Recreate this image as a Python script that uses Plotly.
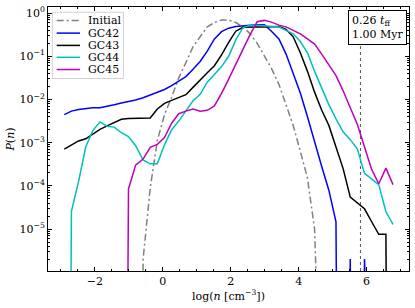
import plotly.graph_objects as go

# bin centres, log(n [cm^-3])
log_n = [-2.90, -2.69, -2.48, -2.27, -2.06, -1.85, -1.64, -1.43, -1.22, -1.01,
         -0.80, -0.58, -0.37, -0.16, 0.05, 0.26, 0.47, 0.68, 0.89, 1.10,
         1.31, 1.52, 1.73, 1.94, 2.15, 2.36, 2.57, 2.78, 2.99, 3.20,
         3.42, 3.63, 3.84, 4.05, 4.26, 4.47, 4.68, 4.89, 5.10, 5.31,
         5.52, 5.73, 5.94, 6.15, 6.36, 6.57, 6.78]

# log10 P(n); None = empty bin
initial = [None]*11 + [-5.70, -4.05, -2.95, -2.35, -1.95, -1.50, -1.15, -0.78, -0.55,
           -0.32, -0.22, -0.16, -0.16, -0.22, -0.32, -0.48, -0.70, -1.00, -1.28,
           -1.65, -2.10, -2.60, -3.20, -3.82, -5.00] + [None]*11
gc42 = [-2.35, -2.27, -2.23, -2.21, -2.19, -2.19, -2.16, -2.12, -2.08, -2.05,
        -2.01, -1.96, -1.90, -1.84, -1.77, -1.68, -1.57, -1.47, -1.30, -1.12,
        -0.88, -0.60, -0.43, -0.35, -0.31, -0.29, -0.28, -0.27, -0.27, -0.42,
        -0.60, -0.95, -1.38, -1.85, -2.40, -3.00, -3.55, -4.10, -4.83, None,
        -5.69, None, -5.69, None, None, None, None]
gc43 = [-3.15, -3.05, -2.96, -2.91, -2.80, -2.69, -2.61, -2.54, -2.46, -2.44,
        -2.44, -2.44, -2.43, -2.22, -2.09, -2.02, -1.95, -1.89, -1.72, -1.54,
        -1.38, -1.22, -0.97, -0.68, -0.42, -0.33, -0.32, -0.32, -0.32, -0.32,
        -0.31, -0.38, -0.55, -0.92, -1.35, -1.83, -2.25, -2.60, -3.08, -3.60,
        -4.26, -4.40, -4.53, -4.83, -5.12, -5.12, None]
gc44 = [None, -4.59, -3.90, -3.10, -2.72, -2.52, -2.62, -2.64, -2.77, -2.86,
        -3.07, -3.40, -3.49, -3.49, -3.05, -2.70, -2.50, -2.25, -2.03, -1.88,
        -1.60, -1.42, -1.24, -1.00, -0.62, -0.34, -0.28, -0.28, -0.29, -0.30,
        -0.32, -0.40, -0.48, -0.66, -0.92, -1.35, -1.75, -2.12, -2.45, -2.75,
        -2.93, -3.15, -3.71, -3.85, -3.97, -4.60, -4.89]
gc45 = [None]*9 + [-4.07, -3.52, -3.38, -3.11, -3.04, -2.88, -2.55, -2.33, -2.27, -2.22,
        -2.27, -2.25, -2.15, -1.86, -1.53, -1.18, -0.84, -0.50, -0.20, -0.17,
        -0.21, -0.28, -0.32, -0.40, -0.48, -0.60, -0.72, -0.95, -1.20, -1.45,
        -1.80, -2.17, -2.58, -3.10, -3.62, -3.95, -3.59, -3.97]

series_names = ["Initial", "GC42", "GC43", "GC44", "GC45"]
series_vals = [initial, gc42, gc43, gc44, gc45]
series_colors = ["#808080", "#0000ff", "#000000", "#00bfbf", "#bf00bf"]
series_dash = ["7px,3px,2px,3px", "solid", "solid", "solid", "solid"]

t_label = "0.26 <i>t</i><sub>ff</sub><br>1.00 Myr"
density_threshold = 5.82

FLOOR = 1e-30  # empty bins drop off the bottom of the log axis
FONT = "DejaVu Serif"
FS = 11

fig = go.Figure()
for name, vals, col, dash in zip(series_names, series_vals, series_colors, series_dash):
    y = [FLOOR if v is None else 10 ** v for v in vals]
    fig.add_trace(go.Scatter(x=log_n, y=y, mode="lines", name=name, showlegend=False,
                             line=dict(color=col, width=1.5, dash=dash)))

# vertical threshold line
fig.add_shape(type="line", xref="x", yref="paper", x0=density_threshold, x1=density_threshold,
              y0=0, y1=1, line=dict(color="#555555", width=1, dash="dot"), layer="below")

# legend (drawn manually to reproduce the compact matplotlib spacing)
fig.add_shape(type="rect", xref="paper", yref="paper", x0=0.012, x1=0.209, y0=0.729, y1=0.980,
              line=dict(color="#d0d0d0", width=1), fillcolor="rgba(255,255,255,0.85)")
row_y = [0.9485, 0.9011, 0.8545, 0.8094, 0.7632]
for name, col, dash, yy in zip(series_names, series_colors, series_dash, row_y):
    fig.add_shape(type="line", xref="paper", yref="paper", x0=0.024, x1=0.0886, y0=yy, y1=yy,
                  line=dict(color=col, width=1.5, dash=dash))
    fig.add_annotation(xref="paper", yref="paper", x=0.105, y=yy, xanchor="left", yanchor="middle",
                       text=name, showarrow=False, font=dict(family=FONT, size=FS, color="black"))

fig.add_annotation(xref="paper", yref="paper", x=0.912, y=0.989, xanchor="center", yanchor="top",
                   text=t_label, showarrow=False, align="left",
                   font=dict(family=FONT, size=FS, color="black"),
                   bgcolor="white", bordercolor="black", borderwidth=1, borderpad=3)

ymin_ticks = []
for e in range(-6, 1):
    for m in range(2, 10):
        ymin_ticks.append(m * 10 ** e)

fig.update_layout(
    width=415, height=308,
    margin=dict(l=48, r=6, t=5, b=37),
    paper_bgcolor="white", plot_bgcolor="white",
    font=dict(family=FONT, size=FS, color="black"),
    showlegend=False,
    xaxis=dict(range=[-3.38, 7.25], tickmode="array", tickvals=[-2, 0, 2, 4, 6],
               ticktext=["\u22122", "0", "2", "4", "6"],
               ticks="inside", ticklen=4, tickcolor="black", mirror="allticks",
               showline=True, linecolor="black", linewidth=1, showgrid=False, zeroline=False,
               minor=dict(tickmode="array", tickvals=[v / 2 for v in range(-8, 16)],
                          ticks="inside", ticklen=2, tickcolor="black", showgrid=False),
               title=dict(text="log(<i>n</i> [cm<sup>\u22123</sup>])", standoff=2,
                          font=dict(size=FS))),
    yaxis=dict(type="log", range=[-5.97, 0.14], tickmode="array",
               tickvals=[1, 1e-1, 1e-2, 1e-3, 1e-4, 1e-5],
               ticktext=["10<sup>0</sup>", "10<sup>\u22121</sup>", "10<sup>\u22122</sup>",
                         "10<sup>\u22123</sup>", "10<sup>\u22124</sup>", "10<sup>\u22125</sup>"],
               ticks="inside", ticklen=4, tickcolor="black", mirror="allticks",
               showline=True, linecolor="black", linewidth=1, showgrid=False, zeroline=False,
               minor=dict(tickmode="array", tickvals=ymin_ticks,
                          ticks="inside", ticklen=2, tickcolor="black", showgrid=False),
               title=dict(text="<i>P</i>(<i>n</i>)", standoff=2, font=dict(size=FS))),
)

fig.write_html("out.html", config={"displayModeBar": False},
               post_script="document.body.style.margin='0px';")
